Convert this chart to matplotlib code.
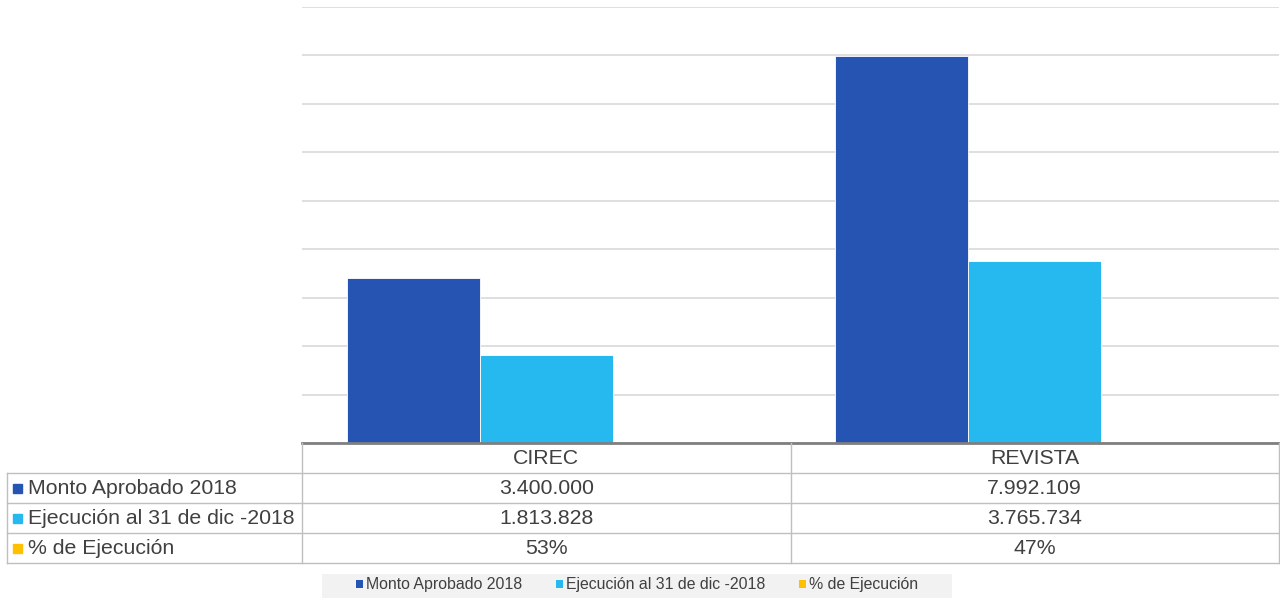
import numpy as np
import matplotlib.pyplot as plt
from matplotlib.patches import Patch, Rectangle

plt.rcParams['font.family'] = ['Liberation Sans', 'DejaVu Sans']

# datos
categorias = ['CIREC', 'REVISTA']
series = ['Monto Aprobado 2018', 'Ejecución al 31 de dic -2018', '% de Ejecución']
monto = [3400000, 7992109]
ejecucion = [1813828, 3765734]
porcentaje = [0.53, 0.47]

colores = ['#2554b3', '#26b9ef', '#ffc000']
texto = '#404040'
linea_tabla = '#bfbfbf'

W, H = 1280, 598
fig = plt.figure(figsize=(W / 100, H / 100), dpi=100)

# area del grafico (pixeles medidos en la referencia)
x0, x1 = 302, 1279
y_base, y_top = 443, 7
ax = fig.add_axes([x0 / W, 1 - y_base / H, (x1 - x0) / W, (y_base - y_top) / H])

# tres series por categoria; el porcentaje queda invisible en esta escala
x = np.arange(len(categorias))
ancho = 0.2725
for k, vals in enumerate([monto, ejecucion, porcentaje]):
    ax.bar(x + (k - 1) * ancho, vals, ancho, color=colores[k], edgecolor='white',
           linewidth=0.6, zorder=3)

ax.set_xlim(-0.5, len(categorias) - 0.5)
ax.set_ylim(0, 9000000)
ax.set_yticks(np.arange(0, 9000001, 1000000))
ax.set_xticks([])
ax.tick_params(axis='y', length=0, labelleft=False)
ax.grid(axis='y', color='#d9d9d9', linewidth=1.2, zorder=0)
for s in ['left', 'right', 'top']:
    ax.spines[s].set_visible(False)
ax.spines['bottom'].set_color('#7f7f7f')
ax.spines['bottom'].set_linewidth(2)
ax.spines['bottom'].set_zorder(4)

# tabla de datos debajo del grafico
t_left, t_bottom = 7, 563
tax = fig.add_axes([t_left / W, 1 - t_bottom / H, (x1 - t_left) / W, (t_bottom - y_base) / H])
px_por_unidad = (x1 - x0) / len(categorias)
xl = -0.5 - (x0 - t_left) / px_por_unidad
xr = len(categorias) - 0.5
tax.set_xlim(xl, xr)
tax.set_ylim(4, 0)
tax.axis('off')

lw = 1.0
for r in [1, 2, 3, 4]:
    tax.plot([xl, xr], [r, r], color=linea_tabla, lw=lw, clip_on=False)
tax.plot([xl, xl], [1, 4], color=linea_tabla, lw=lw, clip_on=False)
for c in np.arange(len(categorias) + 1) - 0.5:
    tax.plot([c, c], [0, 4], color=linea_tabla, lw=lw, clip_on=False)

fs = 15.3
for i, cat in enumerate(categorias):
    tax.text(i, 0.52, cat, ha='center', va='center', fontsize=fs, color=texto)
    tax.text(i, 1.52, f'{monto[i]:,}'.replace(',', '.'), ha='center', va='center', fontsize=fs, color=texto)
    tax.text(i, 2.52, f'{ejecucion[i]:,}'.replace(',', '.'), ha='center', va='center', fontsize=fs, color=texto)
    tax.text(i, 3.52, f'{porcentaje[i]:.0%}', ha='center', va='center', fontsize=fs, color=texto)

cuadro = 9 / px_por_unidad
for r, (nombre, col) in enumerate(zip(series, colores)):
    yc = r + 1.5
    tax.add_patch(Rectangle((xl + 6 / px_por_unidad, yc - 0.15), cuadro, 0.3,
                            color=col, clip_on=False))
    tax.text(xl + 21 / px_por_unidad, yc + 0.02, nombre, ha='left', va='center',
             fontsize=fs, color=texto)

# leyenda con fondo gris claro
fig.add_artist(Rectangle((322 / W, 0), (952 - 322) / W, (H - 574) / H,
                         transform=fig.transFigure, facecolor='#f2f2f2',
                         edgecolor='none', zorder=0))
handles = [Patch(facecolor=c, edgecolor='none') for c in colores]
leg = fig.legend(handles, series, loc='center', bbox_to_anchor=(637 / W, 1 - 585 / H),
                 ncol=3, frameon=False, fontsize=11.4,
                 handlelength=0.45, handleheight=0.45, handletextpad=0.2,
                 columnspacing=2.1, borderpad=0.2, labelcolor=texto)

fig.savefig('out.png', dpi=100, facecolor='white')
